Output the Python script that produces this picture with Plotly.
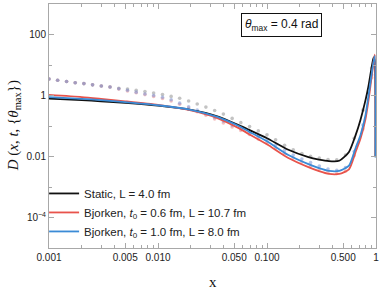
import numpy as np
import plotly.graph_objects as go

# ---------------- data ----------------
# x grid of the solid curves
x_curve = [0.001, 0.002, 0.003, 0.005, 0.01, 0.02, 0.035, 0.055, 0.068, 0.1,
           0.157, 0.24, 0.3, 0.37, 0.46, 0.565, 0.65, 0.72, 0.8, 0.85,
           0.89, 0.92, 0.95, 0.975, 0.99]
# log10 of D for each solid curve
static_log10 = [-0.10, -0.15, -0.19, -0.24, -0.33, -0.47, -0.68, -0.97, -1.12, -1.40,
                -1.78, -2.02, -2.10, -2.15, -2.14, -1.85, -1.30, -0.80, -0.16, 0.28,
                0.70, 1.00, 1.25, 1.10, -2.00]
bj06_log10 = [0.02, -0.05, -0.11, -0.19, -0.31, -0.49, -0.74, -1.07, -1.26, -1.60,
              -2.05, -2.35, -2.48, -2.57, -2.57, -2.42, -1.85, -1.42, -0.78, -0.20,
              0.32, 0.72, 1.10, 1.34, -2.00]
bj10_log10 = [-0.05, -0.11, -0.15, -0.22, -0.32, -0.47, -0.70, -1.00, -1.18, -1.50,
              -1.95, -2.25, -2.38, -2.47, -2.47, -2.30, -1.72, -1.30, -0.65, -0.05,
              0.45, 0.80, 1.10, 1.29, -2.03]

# x positions of the dotted (faint) series
x_dots = [0.001, 0.0012, 0.00145, 0.00174, 0.00209, 0.00251, 0.00302, 0.00363,
          0.00437, 0.00525, 0.00631, 0.00759, 0.00912, 0.0110, 0.0132, 0.0158,
          0.0191, 0.0229, 0.0275, 0.0331, 0.0398, 0.0479, 0.0575, 0.0692,
          0.0832, 0.100, 0.120, 0.145, 0.174, 0.209, 0.251, 0.302, 0.363,
          0.437, 0.525, 0.631, 0.759, 0.912]
static_dots_log10 = [0.54, 0.50, 0.46, 0.42, 0.39, 0.35, 0.31, 0.28, 0.24, 0.21,
                     0.17, 0.13, 0.08, 0.03, -0.03, -0.09, -0.18, -0.28, -0.38, -0.49,
                     -0.61, -0.75, -0.89, -1.02, -1.16, -1.29, -1.45, -1.63, -1.78, -1.90,
                     -1.99, -2.05, -2.10, -2.11, -1.95, -1.40, -0.48, 0.90]
bj10_dots_log10 = [0.54, 0.50, 0.46, 0.42, 0.39, 0.35, 0.31, 0.28, 0.22, 0.17,
                   0.11, 0.05, 0.00, -0.06, -0.14, -0.25, -0.37, -0.48, -0.60, -0.72,
                   -0.84, -0.97, -1.08, -1.20, -1.34, -1.48, -1.63, -1.80, -1.95, -2.08,
                   -2.20, -2.31, -2.41, -2.45, -2.36, -1.84, -0.97, 0.68]
bj06_dots_log10 = [0.54, 0.50, 0.46, 0.42, 0.39, 0.35, 0.31, 0.28, 0.21, 0.15,
                   0.09, 0.03, -0.03, -0.10, -0.18, -0.29, -0.41, -0.53, -0.65, -0.77,
                   -0.90, -1.03, -1.15, -1.28, -1.43, -1.57, -1.73, -1.90, -2.05, -2.18,
                   -2.30, -2.41, -2.51, -2.56, -2.48, -1.97, -1.10, 0.58]

series_names = ["Static, L = 4.0 fm",
                "Bjorken, <i>t</i><sub>0</sub> = 0.6 fm, L = 10.7 fm",
                "Bjorken, <i>t</i><sub>0</sub> = 1.0 fm, L = 8.0 fm"]

x_tickvals = [0.001, 0.005, 0.01, 0.05, 0.1, 0.5, 1]
x_ticktext = ["0.001", "0.005", "0.010", "0.050", "0.100", "0.500", "1"]
x_minor = [0.002, 0.003, 0.004, 0.006, 0.007, 0.008, 0.009,
           0.02, 0.03, 0.04, 0.06, 0.07, 0.08, 0.09,
           0.2, 0.3, 0.4, 0.6, 0.7, 0.8, 0.9]
y_tickvals = [1e-4, 1e-2, 1, 100]
y_ticktext = ["10<sup>\u22124</sup>", "0.01", "1", "100"]
y_minor = [1e-5, 1e-3, 1e-1, 10, 1000]

# ---------------- styles ----------------
BLACK = "#111111"
RED = "#e8534b"
BLUE = "#3b8bd6"
AXIS = "#a8a8a8"
SANS = "Liberation Sans, Arial, sans-serif"
SERIF = "Liberation Serif, Times New Roman, serif"

fig = go.Figure()

dot_styles = [(static_dots_log10, "rgba(170,170,170,0.7)"),
              (bj06_dots_log10, "rgba(235,130,130,0.5)"),
              (bj10_dots_log10, "rgba(120,150,215,0.55)")]
for vals, col in dot_styles:
    fig.add_trace(go.Scatter(x=x_dots, y=np.power(10.0, vals), mode="markers",
                             marker=dict(size=3.6, color=col, line=dict(width=0)),
                             showlegend=False, hoverinfo="skip"))

for vals, col, name in [(static_log10, BLACK, series_names[0]),
                        (bj06_log10, RED, series_names[1]),
                        (bj10_log10, BLUE, series_names[2])]:
    fig.add_trace(go.Scatter(x=x_curve, y=np.power(10.0, vals), mode="lines",
                             line=dict(color=col, width=1.8, shape="spline", smoothing=0.6),
                             name=name))

fig.update_layout(
    width=382, height=290,
    margin=dict(l=49, r=4, t=3, b=42),
    paper_bgcolor="white", plot_bgcolor="white",
    font=dict(family=SANS, size=10, color="#222"),
    legend=dict(x=-0.015, y=0.283, xanchor="left", yanchor="top",
                bgcolor="rgba(0,0,0,0)", font=dict(family=SANS, size=11.5, color="#222"),
                tracegroupgap=0, itemwidth=30),
    showlegend=True,
)
fig.update_xaxes(type="log", range=[-3, 0], showgrid=False, zeroline=False,
                 showline=True, linecolor=AXIS, linewidth=1, mirror="ticks",
                 ticks="inside", ticklen=5, tickcolor=AXIS,
                 tickvals=x_tickvals, ticktext=x_ticktext,
                 tickfont=dict(family=SANS, size=10, color="#222"),
                 minor=dict(tickvals=x_minor, ticks="inside", ticklen=3, tickcolor=AXIS))
fig.update_yaxes(type="log", range=[-5, 3], showgrid=False, zeroline=False,
                 showline=True, linecolor=AXIS, linewidth=1, mirror="ticks",
                 ticks="inside", ticklen=5, tickcolor=AXIS,
                 tickvals=y_tickvals, ticktext=y_ticktext,
                 tickfont=dict(family=SANS, size=10, color="#222"),
                 minor=dict(tickvals=y_minor, ticks="inside", ticklen=3, tickcolor=AXIS))

fig.add_annotation(text="<i>\u03b8</i><sub>max</sub> = 0.4 rad", xref="paper", yref="paper",
                   x=0.711, y=0.912, xanchor="center", yanchor="middle", showarrow=False,
                   font=dict(family=SANS, size=12, color="#111"),
                   bordercolor="#111", borderwidth=1, borderpad=3, bgcolor="white")
fig.add_annotation(text="x", xref="paper", yref="paper", x=0.5, y=-0.1385,
                   xanchor="center", yanchor="middle", showarrow=False,
                   font=dict(family=SERIF, size=15, color="#111"))
fig.add_annotation(text="<i>D</i> (<i>x</i>, <i>t</i>, {<i>\u03b8</i><sub>max</sub>})",
                   xref="paper", yref="paper", x=-0.106, y=0.5, textangle=-90,
                   xanchor="center", yanchor="middle", showarrow=False,
                   font=dict(family=SERIF, size=15, color="#111"))

fig.write_html("out.html", config={"displayModeBar": False},
               post_script="document.body.style.margin='0';")
